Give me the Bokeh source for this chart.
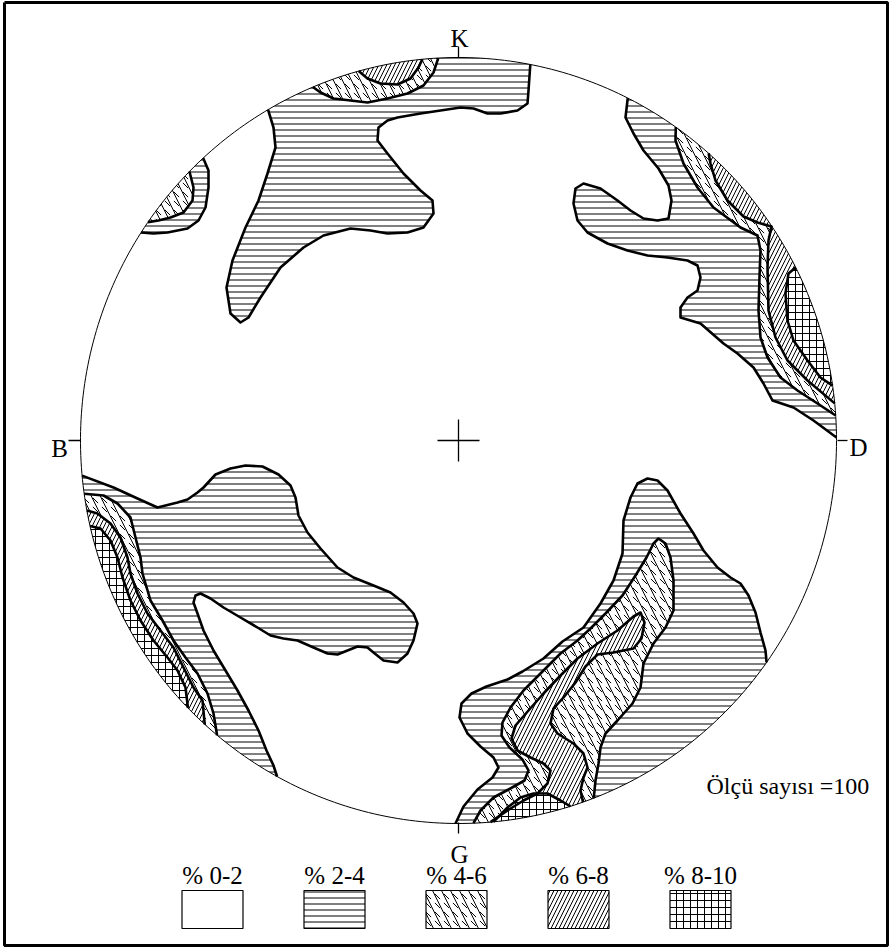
import numpy as np
from bokeh.plotting import figure
from bokeh.models import Range1d, Label
from bokeh.embed import file_html
from bokeh.resources import INLINE

# ---- net outline (pixel-like coordinates, y grows downward) ----
CX, CY, RX, RY = 458.0, 440.0, 378.0, 383.0

# ---- density classes ----
levels = ["% 0-2", "% 2-4", "% 4-6", "% 6-8", "% 8-10"]

# ---- contour boundaries: each runs from the rim, through the net, back to the rim ----
# class 2-4
tl_24 = [(203, 158), (208, 170), (208, 187), (205, 207), (198, 220), (187, 228),
         (167, 232), (153, 233), (142, 233)]
k_24 = [(268, 110), (273, 127), (275, 147), (267, 173), (258, 200), (245, 227),
        (232, 260), (226, 287), (230, 313), (240, 322), (248, 317), (260, 297),
        (280, 267), (303, 247), (323, 235), (350, 228), (370, 230), (387, 233),
        (407, 232), (423, 227), (433, 213), (432, 200), (420, 190), (403, 173),
        (387, 153), (377, 140), (378, 127), (387, 120), (397, 117), (420, 113),
        (440, 110), (460, 107), (473, 108), (487, 113), (500, 113), (517, 110),
        (527, 103), (528, 90), (530, 63)]
r_24 = [(627, 98), (625, 117), (633, 133), (643, 150), (658, 168), (668, 185),
        (671, 200), (668, 218), (657, 220), (643, 218), (630, 210), (617, 200),
        (600, 188), (583, 183), (575, 188), (573, 203), (577, 220), (587, 232),
        (607, 243), (627, 250), (647, 255), (667, 257), (687, 260), (697, 265),
        (700, 277), (697, 290), (687, 297), (680, 307), (680, 317), (700, 323),
        (723, 343), (737, 353), (753, 367), (763, 383), (772, 400), (793, 407),
        (813, 420), (837, 437)]
bl_24 = [(83, 475), (113, 487), (137, 498), (157, 507), (177, 502), (187, 499),
         (197, 492), (203, 487), (215, 474), (230, 468), (245, 465), (262, 466),
         (278, 474), (290, 485), (295, 497), (298, 515), (307, 532), (320, 548),
         (337, 567), (353, 577), (373, 585), (390, 592), (403, 602), (413, 613),
         (417, 623), (413, 640), (407, 653), (397, 662), (383, 660), (373, 652),
         (367, 647), (357, 646), (347, 650), (337, 654), (327, 653), (313, 647),
         (297, 640), (283, 638), (270, 635), (257, 627), (240, 617), (223, 607),
         (210, 598), (200, 593), (195, 595), (193, 602), (197, 613), (203, 630),
         (213, 650), (225, 670), (237, 690), (248, 710), (258, 730), (266, 750),
         (273, 765), (276, 777)]
b_24 = [(455, 822), (463, 806), (477, 789), (492, 777), (498, 767), (493, 757),
        (480, 746), (467, 733), (459, 717), (461, 703), (471, 693), (486, 686),
        (507, 679), (522, 671), (543, 658), (562, 641), (583, 627), (600, 603),
        (613, 580), (622, 553), (623, 520), (630, 497), (637, 483), (647, 478),
        (657, 480), (667, 490), (680, 513), (693, 533), (703, 550), (717, 567),
        (730, 577), (740, 583), (748, 595), (755, 612), (760, 632), (765, 650),
        (769, 664)]

# class 4-6
tl_46 = [(190, 172), (193, 187), (192, 200), (183, 212), (170, 217), (158, 220),
         (148, 222)]
k_46 = [(313, 88), (320, 92), (333, 98), (367, 102), (387, 98), (407, 93),
        (423, 85), (433, 72), (438, 62)]
r_46 = [(675, 127), (675, 140), (683, 163), (697, 187), (713, 207), (740, 227),
        (757, 235), (760, 250), (759, 277), (758, 310), (760, 337), (767, 357),
        (780, 377), (797, 390), (817, 403), (835, 415)]
bl_46 = [(85, 493), (103, 495), (117, 503), (130, 517), (135, 537), (140, 557),
         (142, 573), (150, 600), (162, 620), (173, 640), (185, 657), (197, 673),
         (207, 693), (213, 713), (218, 733)]
b_46 = [(473, 823), (480, 810), (493, 797), (508, 789), (524, 780), (528, 770),
        (522, 759), (509, 747), (501, 735), (502, 722), (510, 707), (523, 690),
        (540, 673), (560, 653), (577, 640), (590, 628), (605, 613), (622, 595),
        (635, 575), (646, 557), (653, 543), (658, 538), (665, 543), (670, 557),
        (673, 580), (673, 610), (665, 627), (653, 643), (643, 663), (640, 687),
        (632, 703), (617, 720), (605, 733), (600, 747), (598, 763), (595, 780),
        (593, 797)]

# class 6-8
k_68 = [(358, 70), (367, 78), (380, 83), (397, 84), (410, 78), (418, 67),
        (422, 59)]
r_68 = [(708, 153), (710, 163), (715, 180), (727, 200), (743, 216), (757, 222),
        (771, 226), (768, 240), (767, 267), (768, 310), (775, 337), (787, 360),
        (807, 380), (833, 403)]
bl_68 = [(87, 510), (97, 513), (110, 523), (120, 537), (127, 557), (130, 573),
         (137, 593), (147, 613), (160, 630), (173, 647), (183, 667), (193, 687),
         (202, 700), (205, 723)]
b_68 = [(490, 822), (507, 810), (523, 800), (537, 793), (547, 783), (550, 770),
        (543, 763), (530, 757), (517, 750), (511, 738), (515, 725), (528, 710),
        (543, 693), (560, 675), (577, 658), (597, 643), (617, 630), (633, 616),
        (640, 612), (644, 622), (641, 638), (633, 648), (613, 652), (597, 654),
        (585, 666), (575, 682), (563, 697), (553, 708), (550, 723), (557, 733),
        (573, 743), (583, 753), (587, 767), (583, 777), (580, 790), (583, 803)]

# class 8-10
r_810 = [(795, 267), (788, 273), (785, 293), (787, 320), (793, 340), (807, 360),
         (820, 377), (833, 385)]
bl_810 = [(92, 525), (100, 528), (110, 540), (117, 557), (122, 577), (130, 600),
          (140, 620), (153, 640), (167, 657), (177, 670), (185, 687), (188, 707)]
b_810 = [(493, 822), (507, 807), (520, 797), (533, 793), (547, 793), (560, 800),
         (570, 806)]

contours = {
    "% 2-4": [tl_24, k_24, r_24, bl_24, b_24],
    "% 4-6": [tl_46, k_46, r_46, bl_46, b_46],
    "% 6-8": [k_68, r_68, bl_68, b_68],
    "% 8-10": [r_810, bl_810, b_810],
}

# hatch layers used for each class (pattern, scale)
hatches = {
    "% 0-2": [],
    "% 2-4": [("horizontal_line", 6)],
    "% 4-6": [("left_diagonal_line", 18), ("left_diagonal_dash", 9)],
    "% 6-8": [("right_diagonal_line", 8)],
    "% 8-10": [("cross", 7)],
}


def rim_angle(pt):
    return np.arctan2((pt[1] - CY) / RY, (pt[0] - CX) / RX)


def rim_point(a):
    return CX + RX * np.cos(a), CY + RY * np.sin(a)


def region(pts):
    """Boundary line snapped to the rim, and the closed area it cuts off."""
    a0, a1 = rim_angle(pts[0]), rim_angle(pts[-1])
    line = [rim_point(a0)] + list(pts[1:-1]) + [rim_point(a1)]
    d = (a0 - a1 + np.pi) % (2 * np.pi) - np.pi
    n = max(3, int(abs(d) / 0.01))
    arc = [rim_point(a1 + d * t) for t in np.linspace(0, 1, n)]
    area = line + arc[1:-1]
    lx, ly = [p[0] for p in line], [p[1] for p in line]
    ax, ay = [p[0] for p in area], [p[1] for p in area]
    return lx, ly, ax, ay


p = figure(width=892, height=952, x_range=Range1d(0, 892), y_range=Range1d(952, 0),
           output_backend="svg", toolbar_location=None, min_border=0)
p.axis.visible = False
p.grid.visible = False
p.outline_line_color = None
p.background_fill_color = "white"

FONT = "Liberation Serif"

line_xs, line_ys = [], []
for lev in levels[1:]:
    xs, ys = [], []
    for pts in contours[lev]:
        lx, ly, ax, ay = region(pts)
        xs.append(ax)
        ys.append(ay)
        line_xs.append(lx)
        line_ys.append(ly)
    p.patches(xs, ys, fill_color="white", line_color=None)
    for pat, sc in hatches[lev]:
        p.patches(xs, ys, fill_alpha=0, line_color=None, hatch_pattern=pat,
                  hatch_scale=sc, hatch_weight=1, hatch_color="black")

# contour lines
p.multi_line(line_xs, line_ys, line_color="black", line_width=2.6, line_join="round")

# net rim
t = np.linspace(0, 2 * np.pi, 400)
p.line(CX + RX * np.cos(t), CY + RY * np.sin(t), line_color="black", line_width=1)

# centre cross and direction ticks
p.segment(x0=[437, CX, CX, 68, 837, CX], y0=[CY, 419, 46, CY, CY, 822],
          x1=[479, CX, CX, 80, 847, CX], y1=[CY, 461, 57, CY, CY, 833],
          line_color="black", line_width=1.3)

dir_labels = ["K", "B", "D", "G"]
dir_x = [459, 59, 858, 459]
dir_y = [38, 448, 447, 854]
for s, x, y in zip(dir_labels, dir_x, dir_y):
    p.add_layout(Label(x=x, y=y, text=s, text_font=FONT, text_font_size="25px",
                       text_align="center", text_baseline="alphabetic",
                       text_color="black"))

p.add_layout(Label(x=706, y=785, text="Ölçü sayısı =100", text_font=FONT,
                   text_font_size="24px", text_align="left",
                   text_baseline="alphabetic", text_color="black"))

# legend swatches
box_cx = [212, 334, 456, 578, 700]
box_w, box_top, box_bot = 61, 890, 928
for lev, cx in zip(levels, box_cx):
    l, r = cx - box_w / 2, cx + box_w / 2
    bx = [l, r, r, l]
    by = [box_top, box_top, box_bot, box_bot]
    p.patch(bx, by, fill_color="white", line_color="black", line_width=1.2)
    for pat, sc in hatches[lev]:
        p.patch(bx, by, fill_alpha=0, line_color=None, hatch_pattern=pat,
                hatch_scale=sc, hatch_weight=1, hatch_color="black")
    p.add_layout(Label(x=cx, y=875, text=lev, text_font=FONT, text_font_size="25px",
                       text_align="center", text_baseline="alphabetic",
                       text_color="black"))

# frame
p.line([4, 887, 887, 4, 4], [2, 2, 945, 945, 2], line_color="black", line_width=3)

open("out.html", "w").write(file_html(p, INLINE))
